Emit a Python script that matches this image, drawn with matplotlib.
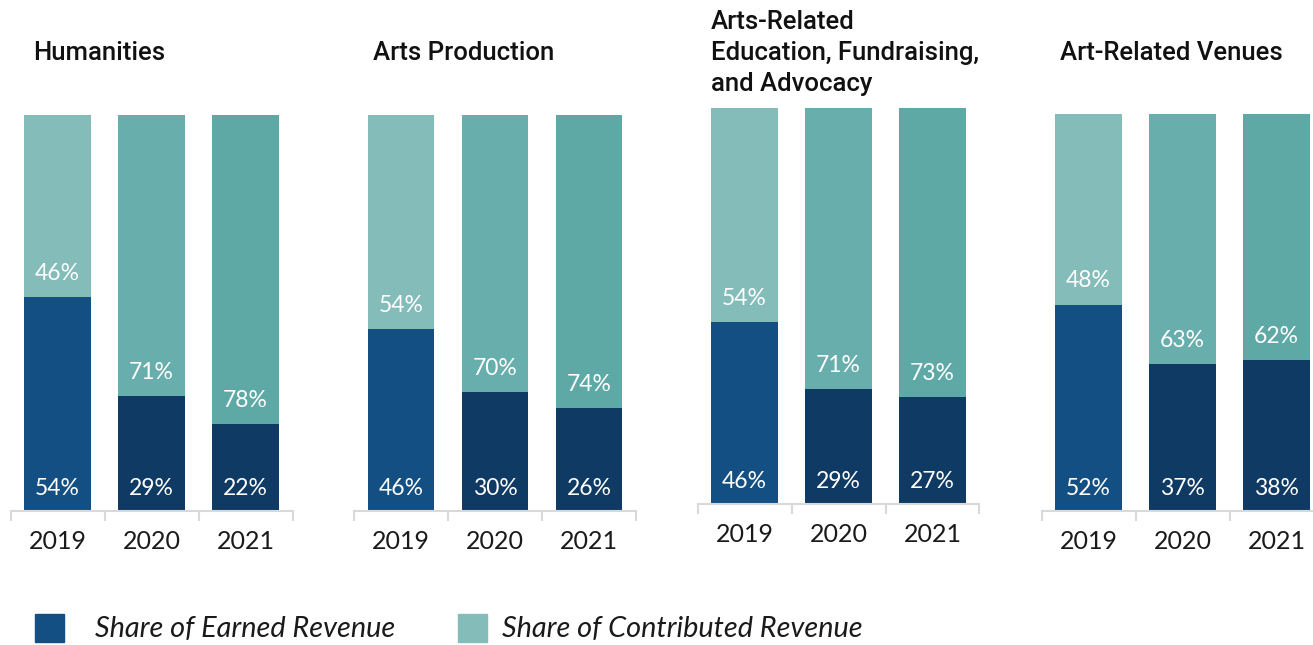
import matplotlib
matplotlib.use("Agg")
import matplotlib.pyplot as plt
from matplotlib.patches import Rectangle

W, H = 1313, 645

years = ["2019", "2020", "2021"]
panels = ["Humanities", "Arts Production",
          "Arts-Related\nEducation, Fundraising,\nand Advocacy", "Art-Related Venues"]
earned = [
    [54, 29, 22],
    [46, 30, 26],
    [46, 29, 27],
    [52, 37, 38],
]
contributed = [
    [46, 71, 78],
    [54, 70, 74],
    [54, 71, 73],
    [48, 63, 62],
]
legend_labels = ["Share of Earned Revenue", "Share of Contributed Revenue"]

earned_colors = ["#144F84", "#0F3A63", "#0F3A63"]
contrib_colors = ["#84BCBA", "#68AEAC", "#5EA9A6"]
axis_color = "#D9D9D9"

NUM_FONT = ["Lato", "DejaVu Sans"]
TITLE_FONT = ["Roboto", "DejaVu Sans"]

fig = plt.figure(figsize=(W / 100, H / 100), dpi=100)

# panel geometry in pixels: (left, top of bars, baseline)
geom = [(10.5, 115, 511), (354, 115, 511), (697.5, 108, 504), (1041.5, 114, 511)]
title_x = [33, 373, 711, 1060]
axw = 282

for i, (left, top, base) in enumerate(geom):
    ax = fig.add_axes([left / W, 1 - base / H, axw / W, (base - top) / H])
    x = range(len(years))
    ax.bar(x, earned[i], width=0.71, color=earned_colors, linewidth=0)
    ax.bar(x, contributed[i], bottom=earned[i], width=0.71, color=contrib_colors, linewidth=0)
    for j in x:
        ax.text(j, 5.6, f"{earned[i][j]}%", ha="center", va="center", color="white",
                fontsize=16.5, family=NUM_FONT)
        ax.text(j, earned[i][j] + 6.0, f"{contributed[i][j]}%", ha="center", va="center",
                color="white", fontsize=16.5, family=NUM_FONT)
    ax.set_xlim(-0.5, 2.5)
    ax.set_ylim(0, 100)
    for s in ["top", "left", "right"]:
        ax.spines[s].set_visible(False)
    ax.spines["bottom"].set_color(axis_color)
    ax.spines["bottom"].set_linewidth(1.5)
    ax.set_yticks([])
    ax.set_xticks(list(x))
    ax.set_xticklabels(years, fontsize=18, family=NUM_FONT, color="#1a1a1a")
    ax.tick_params(axis="x", which="major", length=0, pad=14)
    ax.set_xticks([-0.5, 0.5, 1.5, 2.5], minor=True)
    ax.tick_params(axis="x", which="minor", length=7, width=1.5, color=axis_color, direction="out")
    ax.patch.set_visible(False)

    fig.text(title_x[i] / W, 1 - 53 / H, panels[i], ha="left", va="center",
             fontsize=18.5, fontweight="medium", family=TITLE_FONT, color="#111111",
             linespacing=1.38)

# legend
sq = [(35, 614), (458, 614)]
txt_x = [95, 502]
for k in range(2):
    fig.patches.append(Rectangle((sq[k][0] / W, 1 - (sq[k][1] + 28) / H), 29 / W, 28 / H,
                                 transform=fig.transFigure,
                                 color=earned_colors[0] if k == 0 else contrib_colors[0]))
    fig.text(txt_x[k] / W, 1 - 629 / H, legend_labels[k], ha="left", va="center",
             fontsize=20.8, style="italic", family=NUM_FONT, color="#1a1a1a")

fig.savefig("out.png", dpi=100)
